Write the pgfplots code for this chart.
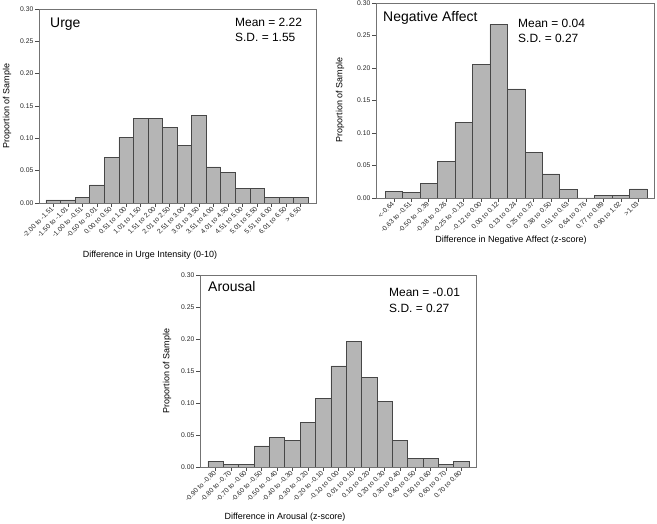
\documentclass[border=0pt]{standalone}
\usepackage{fontspec}
\setmainfont{Liberation Sans}
\usepackage{pgfplots}
\pgfplotsset{compat=1.18}
\pgfplotsset{hist/.style={
  scale only axis, ybar, bar width=1, anchor=south west,
  ymin=0, ymax=0.30,
  ytick={0,0.05,0.10,0.15,0.20,0.25,0.30},
  yticklabels={0.00,0.05,0.10,0.15,0.20,0.25,0.30},
  tick align=outside, major tick length=4bp,
  tick style={black!70, line width=0.5pt},
  xtick pos=bottom, ytick pos=left,
  axis line style={black!55, line width=0.6pt},
  every tick label/.append style={font=\fontsize{6.8}{7.5}\selectfont, text=black!85},
  xticklabel style={rotate=45, anchor=east, inner sep=1pt},
  yticklabel style={inner sep=1.5pt},
  cycle list={{fill=black!29, draw=black!72, line width=0.5pt}},
}}
\begin{document}
\begin{tikzpicture}
\useasboundingbox (0,0) rectangle (657bp,524bp);
% Urge
\begin{axis}[hist, at={(39bp,321bp)}, width=277bp, height=194bp,
  xmin=-0.98, xmax=18.05, xtick={0,...,17},
  xticklabels={-2.00 to -1.51,-1.50 to -1.01,-1.00 to -0.51,-0.50 to -0.01,0.00 to 0.50,0.51 to 1.00,1.01 to 1.50,1.51 to 2.00,2.01 to 2.50,2.51 to 3.00,3.01 to 3.50,3.51 to 4.00,4.01 to 4.50,4.51 to 5.00,5.01 to 5.50,5.51 to 6.00,6.01 to 6.50,> 6.50}]
\addplot[fill=black!29, draw=black!72, line width=0.5pt] coordinates {(0,0.005)(1,0.005)(2,0.009)(3,0.028)(4,0.070)(5,0.102)(6,0.131)(7,0.131)(8,0.117)(9,0.089)(10,0.136)(11,0.056)(12,0.047)(13,0.023)(14,0.023)(15,0.009)(16,0.009)(17,0.009)};
\end{axis}
% Negative Affect
\begin{axis}[hist, at={(376bp,326bp)}, width=278bp, height=195bp,
  xmin=-1.02, xmax=14.9, xtick={0,...,14},
  xticklabels={<-0.64,-0.63 to -0.51,-0.50 to -0.39,-0.38 to -0.26,-0.25 to -0.13,-0.12 to 0.00,0.00 to 0.12,0.13 to 0.24,0.25 to 0.37,0.38 to 0.50,0.51 to 0.63,0.64 to 0.76,0.77 to 0.89,0.90 to 1.02,>1.03}]
\addplot[fill=black!29, draw=black!72, line width=0.5pt] coordinates {(0,0.010)(1,0.009)(2,0.023)(3,0.056)(4,0.116)(5,0.205)(6,0.267)(7,0.168)(8,0.070)(9,0.037)(10,0.013)(11,0)(12,0.004)(13,0.004)(14,0.014)};
\end{axis}
% Arousal
\begin{axis}[hist, at={(200bp,57bp)}, width=276bp, height=192bp,
  xmin=-1.02, xmax=16.96, xtick={0,...,16},
  xticklabels={-0.90 to -0.80,-0.80 to -0.70,-0.70 to -0.60,-0.60 to -0.50,-0.50 to -0.40,-0.40 to -0.30,-0.30 to -0.20,-0.20 to -0.10,-0.10 to 0.00,0.01 to 0.10,0.10 to 0.20,0.20 to 0.30,0.30 to 0.40,0.40 to 0.50,0.50 to 0.60,0.60 to 0.70,0.70 to 0.80}]
\addplot[fill=black!29, draw=black!72, line width=0.5pt] coordinates {(0,0.009)(1,0.004)(2,0.004)(3,0.033)(4,0.046)(5,0.042)(6,0.070)(7,0.107)(8,0.158)(9,0.196)(10,0.140)(11,0.102)(12,0.042)(13,0.014)(14,0.014)(15,0.004)(16,0.009)};
\end{axis}
% titles and stats
\node[anchor=base west, inner sep=0, font=\fontsize{14}{16}\selectfont] at (50bp,496bp) {Urge};
\node[anchor=base west, inner sep=0, font=\fontsize{12}{14}\selectfont] at (235bp,497bp) {Mean = 2.22};
\node[anchor=base west, inner sep=0, font=\fontsize{12}{14}\selectfont] at (235bp,482bp) {S.D. = 1.55};
\node[anchor=base west, inner sep=0, font=\fontsize{14}{16}\selectfont] at (383bp,502bp) {Negative Affect};
\node[anchor=base west, inner sep=0, font=\fontsize{12}{14}\selectfont] at (518bp,496bp) {Mean = 0.04};
\node[anchor=base west, inner sep=0, font=\fontsize{12}{14}\selectfont] at (518bp,481bp) {S.D. = 0.27};
\node[anchor=base west, inner sep=0, font=\fontsize{14}{16}\selectfont] at (208bp,232bp) {Arousal};
\node[anchor=base west, inner sep=0, font=\fontsize{12}{14}\selectfont] at (389bp,227bp) {Mean = -0.01};
\node[anchor=base west, inner sep=0, font=\fontsize{12}{14}\selectfont] at (389bp,211bp) {S.D. = 0.27};
% axis labels
\node[rotate=90, inner sep=0, font=\fontsize{9}{10}\selectfont] at (7bp,418bp) {Proportion of Sample};
\node[inner sep=0, font=\fontsize{9}{10}\selectfont] at (150bp,269bp) {Difference in Urge Intensity (0-10)};
\node[rotate=90, inner sep=0, font=\fontsize{9}{10}\selectfont] at (340bp,424bp) {Proportion of Sample};
\node[inner sep=0, font=\fontsize{9}{10}\selectfont] at (511bp,284bp) {Difference in Negative Affect (z-score)};
\node[rotate=90, inner sep=0, font=\fontsize{9}{10}\selectfont] at (167bp,153bp) {Proportion of Sample};
\node[inner sep=0, font=\fontsize{9}{10}\selectfont] at (285bp,7bp) {Difference in Arousal (z-score)};
\end{tikzpicture}
\end{document}
